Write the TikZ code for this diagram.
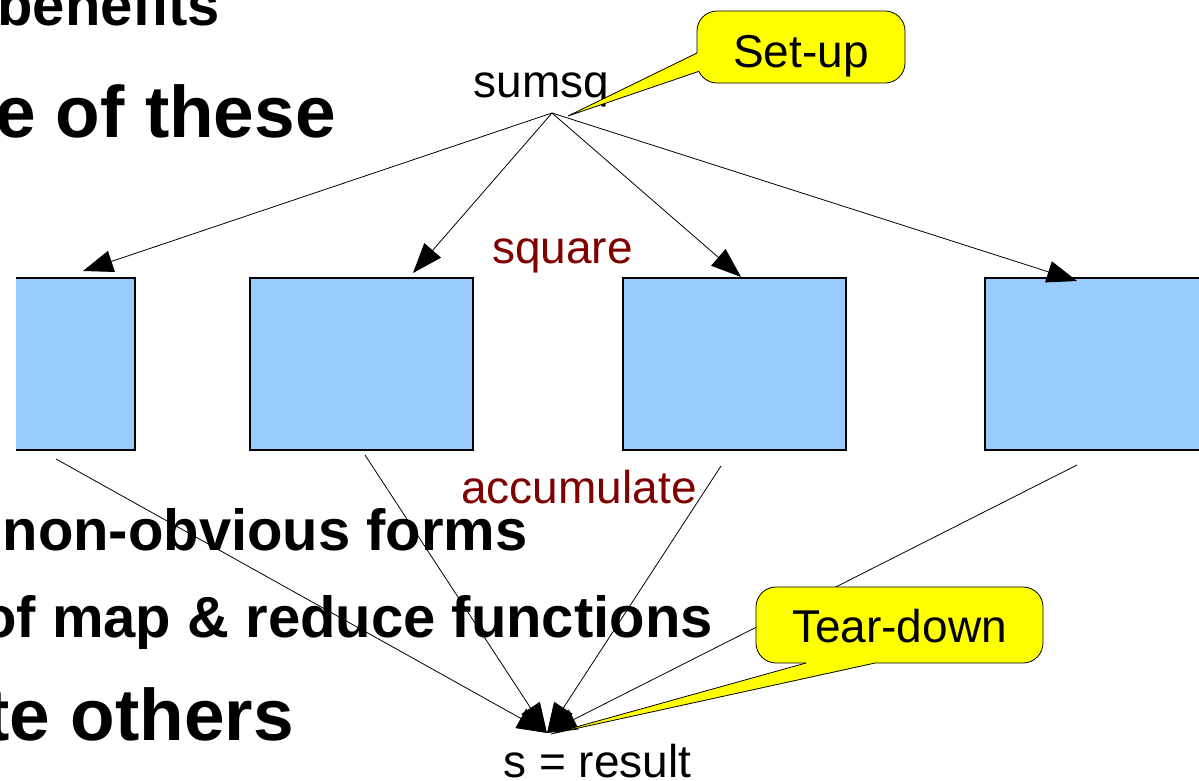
\documentclass[tikz,border=0pt]{standalone}
\usepackage{fontspec}
\setmainfont{Liberation Sans}
\usetikzlibrary{arrows.meta, calc, positioning}
\definecolor{mapBlue}{HTML}{99CCFF}
\definecolor{stepRed}{HTML}{800000}
\definecolor{noteYellow}{HTML}{FFFF00}

\begin{document}
\begin{tikzpicture}[
    x=1pt, y=-1pt,
    slideText/.style={font=\bfseries\fontsize{58}{64}\selectfont, anchor=base east, inner sep=0pt},
    slideHead/.style={slideText, font=\bfseries\fontsize{73}{80}\selectfont},
    mapBox/.style={rectangle, draw=black, fill=mapBlue, line width=1.2pt, minimum width=223pt, minimum height=172pt, inner sep=0pt},
    plain/.style={font=\fontsize{46}{52}\selectfont, anchor=base, inner sep=0pt},
    stepName/.style={plain, text=stepRed},
    note/.style={rectangle, rounded corners=20pt, draw=black, fill=noteYellow, line width=0.8pt, font=\fontsize{46}{52}\selectfont, inner sep=0pt, text depth=0pt},
    flow/.style={-{Triangle[length=30pt, width=22pt]}, line width=0.8pt}
]
\path[use as bounding box] (0,0) rectangle (1199,780);

% Slide text behind the diagram
\node[slideText] (benefits) at (220,25) {benefits};
\node[slideHead] (ofThese) at (336,137) {e of these};
\node[slideText] (forms) at (528,550) {non-obvious forms};
\node[slideText] (functions) at (713,637) {of map \& reduce functions};
\node[slideHead] (others) at (294,740) {te others};

% Nodes
\begin{scope}
  \clip (16,0) rectangle (1199,780);
  \node[mapBox] (map1) at (23.5,364) {};
\end{scope}
\node[mapBox] (map2) at (361.5,364) {};
\node[mapBox] (map3) at (734.5,364) {};
\node[mapBox] (map4) at (1096.5,364) {};

\node[plain] (sumsq) at (541.5,97) {sumsq};
\node[stepName] (square) at (562.5,263) {square};
\node[stepName] (accumulate) at (579,503) {accumulate};
\node[plain] (result) at (597.5,777) {s = result};

\coordinate (split) at (552,113);
\coordinate (join) at (547,733);
\coordinate (in1) at (83,271);
\coordinate (in2) at (413,273);
\coordinate (in3) at (741,277);
\coordinate (in4) at (1077,281);
\coordinate (out1) at (56,459);
\coordinate (out2) at (365,455);
\coordinate (out3) at (721,466);
\coordinate (out4) at (1077,465);

% Edges
\foreach \i in {1,...,4} {
  \draw[flow] (split) -- (in\i);
  \draw[flow] (out\i) -- (join);
}

% Callouts
\node[note, minimum width=208pt, minimum height=72pt, text height=40pt] (setUp) at (801,47) {Set-up};
\coordinate (setUpTip) at (568,116);
\fill[noteYellow] (697,53) -- (setUpTip) -- (699,71.3) -- (703,70) -- (703,53) -- cycle;
\draw[line width=0.8pt] (697,53) -- (setUpTip) -- (699,71.3);

\node[note, minimum width=287pt, minimum height=76pt, text height=34pt] (tearDown) at (899.5,625) {Tear-down};
\coordinate (tearDownTip) at (551,734);
\fill[noteYellow] (806,663.6) -- (tearDownTip) -- (875,663.6) -- (875,659) -- (806,659) -- cycle;
\draw[line width=0.8pt] (806,663) -- (tearDownTip) -- (875,663);

\end{tikzpicture}
\end{document}
